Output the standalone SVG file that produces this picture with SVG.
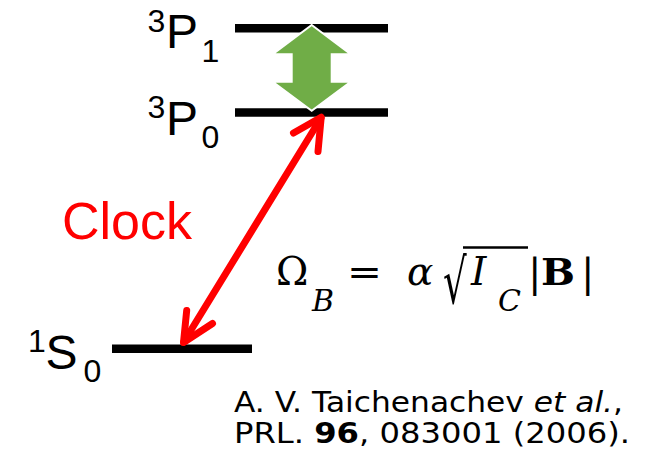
<svg xmlns="http://www.w3.org/2000/svg" width="649" height="453" viewBox="0 0 649 453">
<style>
.lvl{stroke:#000;stroke-width:8.5;fill:none}
.lab{font-family:"Liberation Sans",Arial,sans-serif;fill:#000}
.big{font-size:48px}
.sm{font-size:32px}
.red{stroke:#FF0000;stroke-width:7;fill:none;stroke-linecap:round;stroke-linejoin:round}
.m{font-family:"DejaVu Serif","Liberation Serif",serif;fill:#000}
.cit{font-family:"DejaVu Sans",Verdana,sans-serif;font-size:29px;fill:#000}
</style>
<rect width="649" height="453" fill="#fff"/>
<g id="level-3P1">
<line class="lvl" x1="235" y1="28.2" x2="388" y2="28.2"/>
<text class="lab sm" x="147.5" y="32">3</text>
<text class="lab big" x="166" y="48">P</text>
<text class="lab sm" x="201.5" y="62">1</text>
</g>
<g id="level-3P0">
<line class="lvl" x1="235" y1="112.5" x2="388" y2="112.5"/>
<text class="lab sm" x="147.5" y="118">3</text>
<text class="lab big" x="166" y="135">P</text>
<text class="lab sm" x="201.5" y="148">0</text>
</g>
<g id="level-1S0">
<line class="lvl" x1="112" y1="348.8" x2="252" y2="348.8"/>
<text class="lab sm" x="28" y="351.5">1</text>
<text class="lab big" x="45.5" y="369">S</text>
<text class="lab sm" x="83.5" y="382">0</text>
</g>
<g id="connectors">
<polygon points="311.7,25 350.7,54.3 331.7,54.3 331.7,81.7 350.7,81.7 311.7,110.7 272.7,81.7 291.7,81.7 291.7,54.3 272.7,54.3" fill="#70AD47" stroke="#fff" stroke-width="2" stroke-linejoin="miter"/>
<line class="red" x1="321" y1="118" x2="184" y2="341.5" stroke-linecap="butt"/>
<path class="red" d="M293.5,133 L321.2,117.2 L318,151.5"/>
<path class="red" d="M186.7,310.5 L183.5,342.5 L212.5,323.5"/>
</g>
<g id="label-clock">
<text class="lab" x="62" y="239" font-size="52" style="fill:#FF0000">Clock</text>
</g>
<g id="formula">
<text class="m" x="276" y="285" font-size="39">Ω</text>
<text class="m" x="312" y="311" font-size="30" font-style="italic">B</text>
<text class="m" x="347" y="285" font-size="38" textLength="35" lengthAdjust="spacingAndGlyphs">=</text>
<text class="m" x="407" y="285" font-size="39" font-style="italic">α</text>
<text class="m" transform="translate(443,303) scale(0.6,1)" font-size="62">√</text>
<line x1="463" y1="247.5" x2="528" y2="247.5" stroke="#000" stroke-width="2.6"/>
<text class="m" x="471" y="285" font-size="39" font-style="italic">I</text>
<text class="m" x="498" y="311" font-size="30" font-style="italic">C</text>
<text class="m" x="528" y="287" font-size="40">|</text>
<text class="m" x="541" y="285" font-size="38" font-weight="bold" textLength="34" lengthAdjust="spacingAndGlyphs">B</text>
<text class="m" x="581" y="287" font-size="40">|</text>
</g>
<g id="citation">
<text class="cit" x="234" y="411.5" textLength="389" lengthAdjust="spacingAndGlyphs">A. V. Taichenachev <tspan font-style="italic">et al.</tspan>,</text>
<text class="cit" x="234" y="443.3" textLength="396" lengthAdjust="spacingAndGlyphs">PRL. <tspan font-weight="bold">96</tspan>, 083001 (2006).</text>
</g>
</svg>
